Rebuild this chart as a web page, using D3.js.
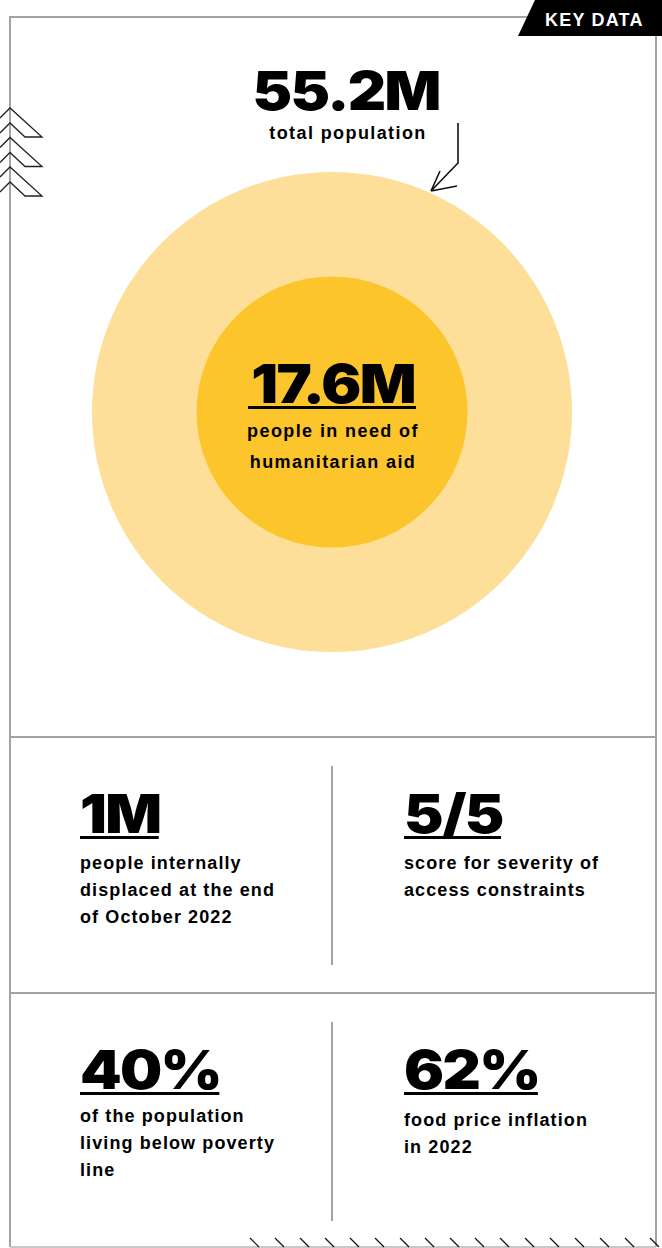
<!DOCTYPE html>
<html><head><meta charset="utf-8">
<script src="https://cdn.jsdelivr.net/npm/d3@7"></script>
<style>
html,body{margin:0;padding:0;background:#fff;}
svg{display:block;}
</style></head>
<body>
<script>
// Data
const populationLabels = ["total population", "people in need of humanitarian aid"];
const populationValues = [55.2, 17.6]; // millions
const populationDisplay = ["55.2M", "17.6M"];
const statValues = ["1M", "5/5", "40%", "62%"];
const statLabels = [
  ["people internally", "displaced at the end", "of October 2022"],
  ["score for severity of", "access constraints"],
  ["of the population", "living below poverty", "line"],
  ["food price inflation", "in 2022"]
];
const badgeText = "KEY DATA";

const W = 662, H = 1248;
const svg = d3.select("body").append("svg").attr("width", W).attr("height", H);
const numFont = "Inter, 'Liberation Sans', sans-serif";
const txtFont = "'Liberation Sans', Arial, sans-serif";
const gray = "#a3a3a3";
const SX = 1.1;

// Frame
const frame = svg.append("g").attr("fill", "none").attr("stroke", gray).attr("stroke-width", 2);
frame.append("path").attr("d", "M10,1247 V17 H656 V1247");
frame.append("line").attr("x1", 10).attr("x2", 656).attr("y1", 737).attr("y2", 737);
frame.append("line").attr("x1", 10).attr("x2", 656).attr("y1", 993).attr("y2", 993);
frame.append("line").attr("x1", 10).attr("x2", 656).attr("y1", 1247).attr("y2", 1247).attr("stroke", "#c8c8c8");
frame.append("line").attr("x1", 332).attr("x2", 332).attr("y1", 766).attr("y2", 965);
frame.append("line").attr("x1", 332).attr("x2", 332).attr("y1", 1022).attr("y2", 1221);

// Badge
svg.append("path").attr("d", "M535,0 H662 V36 H518 Z").attr("fill", "#000");
svg.append("text").text(badgeText).attr("x", 545).attr("y", 26)
  .attr("fill", "#fff").attr("font-family", txtFont).attr("font-weight", 700)
  .attr("font-size", 18).attr("letter-spacing", 1.2);

// Chevrons
const chev = svg.append("g").attr("fill", "none").attr("stroke", "#222").attr("stroke-width", 1.3);
[0, 29.5, 59].forEach(dy => {
  chev.append("path").attr("d",
    `M0,${118+dy} L10,${108+dy} L42,${137+dy} L25,${137+dy} L10,${123+dy} L0,${133+dy}`);
});

// Bottom hatching
const hatch = svg.append("g").attr("stroke", "#111").attr("stroke-width", 1.2);
d3.range(250, 656, 25).forEach(x => {
  hatch.append("line").attr("x1", x).attr("y1", 1238).attr("x2", x + 9).attr("y2", 1247);
});

// Circles
const cx = 332, cy = 412;
const r = d3.scaleSqrt().domain([0, d3.max(populationValues)]).range([0, 240]);
const circleColors = ["#fddf9a", "#fdc52c"];
svg.selectAll("circle.pop").data(populationValues).join("circle")
  .attr("class", "pop").attr("cx", cx).attr("cy", cy).attr("r", d => r(d))
  .attr("fill", (d, i) => circleColors[i]);

function bigNumber(txt, x, y, anchor) {
  const g = svg.append("g").attr("transform", `translate(${x},${y}) scale(${SX},1)`);
  const t = g.append("text").text(txt).attr("text-anchor", anchor)
    .attr("font-family", numFont).attr("font-weight", 900).attr("font-size", 54)
    .attr("letter-spacing", -1.5).attr("fill", "#000");
  const w = (t.node().getComputedTextLength() - 1.5) * SX;
  return w;
}
function label(txt, x, y, anchor, ls) {
  svg.append("text").text(txt).attr("x", x).attr("y", y).attr("text-anchor", anchor)
    .attr("font-family", txtFont).attr("font-weight", 700).attr("font-size", 18)
    .attr("letter-spacing", ls).attr("fill", "#000");
}

// Top number
bigNumber(populationDisplay[0], 346, 110, "middle");
label(populationLabels[0], 348, 139, "middle", 1.4);

// Arrow
svg.append("path").attr("d", "M458,123 V163 L431,191 M431,191 L440,171 M431,191 L457,186")
  .attr("fill", "none").attr("stroke", "#111").attr("stroke-width", 1.6);

// Inner number
const w2 = bigNumber(populationDisplay[1], 333, 403, "middle");
svg.append("rect").attr("x", 332 - w2 / 2 - 3).attr("y", 406).attr("width", w2 + 6).attr("height", 3).attr("fill", "#000");
["people in need of", "humanitarian aid"].forEach((t, i) => label(t, 333, 437 + i * 31, "middle", 1.4));

// Stats
const pos = [[80, 833], [404, 833], [80, 1089], [404, 1089]];
const labelStart = [869, 869, 1122, 1126];
statValues.forEach((v, i) => {
  const [x, y] = pos[i];
  const w = bigNumber(v, x, y, "start");
  svg.append("rect").attr("x", x).attr("y", y + 3).attr("width", w).attr("height", 3).attr("fill", "#000");
  statLabels[i].forEach((l, j) => label(l, x, labelStart[i] + j * 27, "start", 1.1));
});
</script>
</body></html>
